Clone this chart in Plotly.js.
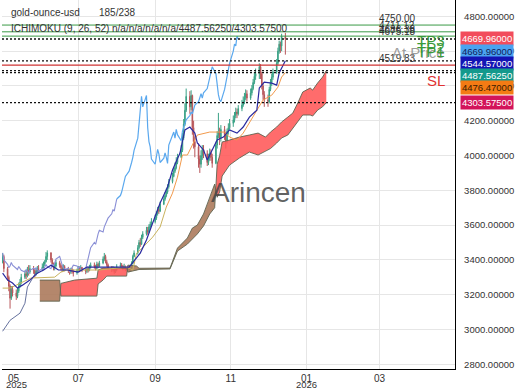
<!DOCTYPE html>
<html><head><meta charset="utf-8">
<script src="https://cdn.plot.ly/plotly-3.0.1.min.js"></script>
<style>html,body{margin:0;padding:0;background:#fff}#c{width:520px;height:390px}</style>
</head><body><div id="c"></div>
<script>
// ---------- DATA ----------
const firstDate = '2025-05-01', lastDate = '2025-12-15';
const firstOpen = 3390;
const closes = [
3420,3350,
3300,3250,3180,3230,3210,
3190,3220,3250,3270,3300,
3320,3310,3340,3330,3350,
3340,3320,3335,3350,3345,
3360,3375,3390,3420,3440,
3400,3375,3355,3365,3385,
3370,3355,3345,3362,3350,
3340,3330,3345,3335,3325,
3340,3352,3345,3356,3342,
3335,3350,3340,3360,3372,
3362,3350,3375,3365,3382,
3405,3420,3390,3372,3356,
3345,3352,3332,3342,3362,
3370,3365,3352,3362,3346,
3345,3352,3380,3420,3440,
3470,3500,3490,3530,3550,
3570,3560,3590,3605,3620,
3640,3665,3690,3680,3720,
3750,3770,3790,3820,3850,
3880,3910,3930,3960,3990,
4030,4100,4180,4260,4340,
4280,4345,4160,4080,4050,
3980,3950,4000,4035,4010,
3960,3985,4015,3990,3955,
4060,4115,4135,4100,4150,
4120,4085,4140,4160,4185,
4205,4230,4250,4240,4270,
4290,4310,4335,4355,4330,
4360,4385,4420,4455,4470,
4510,4470,4400,4350,4320,
4310,4380,4420,4450,4480,
4530,4600,4640,4630,4685,
4669.96];
const highs = [
3440,3430,
3360,3310,3260,3250,3250,
3230,3240,3270,3290,3320,
3340,3340,3360,3370,3370,
3365,3350,3350,3365,3370,
3380,3390,3400,3445,3455,
3445,3410,3385,3380,3400,
3395,3380,3365,3375,3370,
3360,3350,3355,3355,3345,
3350,3365,3362,3370,3360,
3352,3362,3360,3372,3385,
3385,3372,3390,3385,3395,
3420,3440,3430,3400,3380,
3365,3365,3360,3355,3375,
3385,3382,3372,3378,3368,
3360,3365,3392,3430,3455,
3485,3515,3525,3545,3565,
3590,3590,3605,3620,3640,
3660,3680,3705,3710,3735,
3770,3790,3810,3835,3865,
3900,3935,3960,3990,4010,
4060,4130,4210,4300,4385,
4370,4375,4350,4200,4110,
4070,4000,4030,4060,4060,
4030,4010,4040,4035,4010,
4080,4140,4245,4160,4175,
4170,4135,4155,4185,4210,
4230,4250,4275,4270,4290,
4320,4340,4360,4380,4375,
4385,4405,4440,4480,4500,
4530,4525,4480,4420,4370,
4350,4395,4440,4470,4500,
4555,4620,4660,4655,4700,
4705];
const lows = [
3380,3330,
3280,3220,3120,3170,3190,
3170,3180,3210,3240,3260,
3290,3290,3300,3310,3320,
3320,3300,3310,3320,3330,
3335,3350,3365,3385,3400,
3385,3360,3340,3340,3355,
3355,3340,3330,3335,3335,
3325,3315,3320,3320,3305,
3315,3330,3330,3335,3330,
3318,3325,3328,3335,3350,
3350,3340,3345,3352,3360,
3375,3395,3380,3360,3345,
3330,3335,3320,3325,3335,
3355,3350,3340,3345,3335,
3330,3335,3348,3375,3415,
3430,3460,3475,3485,3520,
3540,3545,3555,3580,3595,
3610,3630,3655,3665,3675,
3715,3740,3760,3780,3810,
3840,3875,3900,3920,3950,
3985,4020,4090,4170,4250,
4240,4260,4120,4040,3990,
3930,3900,3930,3975,3985,
3940,3945,3970,3970,3930,
3950,4040,4100,4060,4080,
4090,4040,4070,4120,4150,
4165,4190,4215,4215,4230,
4255,4280,4295,4320,4310,
4320,4345,4375,4410,4435,
4440,4440,4380,4320,4280,
4280,4300,4370,4400,4435,
4470,4520,4585,4590,4600,
4580];

const tenkanDates = ['2025-05-01','2025-05-05','2025-05-09','2025-05-13','2025-05-17','2025-05-23','2025-05-29','2025-06-03','2025-06-09','2025-06-15','2025-06-22','2025-07-01','2025-07-08','2025-07-18','2025-07-29','2025-08-11','2025-08-20','2025-08-25','2025-08-30','2025-09-05','2025-09-11','2025-09-15','2025-09-21','2025-09-25','2025-09-29','2025-10-03','2025-10-05','2025-10-10','2025-10-13','2025-10-18','2025-10-21','2025-10-26','2025-10-31','2025-11-06','2025-11-11','2025-11-16','2025-11-22','2025-11-24','2025-11-28','2025-12-04','2025-12-08','2025-12-10','2025-12-15'];
const tenkanVals = [3324,3284,3267,3238,3255,3284,3324,3342,3370,3342,3342,3330,3359,3359,3359,3359,3439,3514,3612,3727,3819,3917,4014,4147,4164,4129,4072,4032,3974,4049,4089,4106,4147,4129,4164,4221,4261,4388,4422,4416,4405,4474,4544.57];

const kijunDates = ['2025-05-01','2025-05-07','2025-05-12','2025-05-20','2025-05-24','2025-06-12','2025-06-17','2025-06-22','2025-07-08','2025-07-18','2025-08-09','2025-08-14','2025-08-17','2025-08-20','2025-08-30','2025-09-05','2025-09-10','2025-09-15','2025-09-19','2025-09-23','2025-09-27','2025-10-05','2025-10-15','2025-10-27','2025-10-31','2025-11-06','2025-11-11','2025-11-16','2025-11-22','2025-11-27','2025-12-04','2025-12-09','2025-12-12','2025-12-15'];
const kijunVals = [3238,3238,3255,3284,3296,3301,3330,3342,3342,3342,3359,3342,3439,3457,3531,3589,3704,3784,3876,4003,4003,4118,4135,4135,4106,4089,4129,4187,4261,4319,4347,4393,4451,4476.47];

const slateDates = ['2025-05-01','2025-05-07','2025-05-15','2025-05-19','2025-05-21','2025-05-25','2025-05-29'];
const slateVals = [2990,3053,3094,3151,3244,3296,3342];

const cloudDates = ['2025-05-31','2025-06-16','2025-06-17','2025-06-28','2025-07-16','2025-07-17','2025-07-21','2025-07-24','2025-08-09','2025-08-10','2025-08-17','2025-08-19','2025-09-13','2025-09-19','2025-09-27','2025-10-01','2025-10-05','2025-10-10','2025-10-15','2025-10-19','2025-10-21','2025-10-23','2025-10-25','2025-10-31','2025-11-08','2025-11-16','2025-11-23','2025-11-29','2025-12-03','2025-12-08','2025-12-12','2025-12-17','2025-12-21','2025-12-25','2025-12-29','2026-01-04','2026-01-06','2026-01-10','2026-01-14','2026-01-17'];
const spanA = [3163,3163,3265,3284,3295,3342,3353,3353,3353,3330,3340,3345,3348,3451,3491,3520,3549,3595,3664,3700,3950,4000,4078,4089,4106,4118,4129,4106,4135,4164,4193,4221,4244,4302,4365,4388,4376,4417,4451,4487.5625];
const spanB = [3284,3284,3192,3192,3192,3262,3284,3307,3307,3370,3365,3352,3353,3468,3526,3583,3600,3664,3756,3836,3760,3790,3882,3945,3986,4020,4003,4026,4040,4072,4101,4118,4158,4198,4233,4233,4227,4261,4280,4303.575];

const tpLevels = [4750.00, 4711.12, 4686.38];
const tpNames = ['TP3','TP2','TP1'];
const entryLevel = 4675.18;
const slLevel = 4519.83;
const levelLabels = [4750.00, 4711.12, 4686.38, 4675.18, 4519.83];
const markerVals = [4669.96, 4669.96, 4544.57, 4487.5625, 4476.47, 4303.575];
const dottedLevels = [4669.96, 4544.57, 4487.5625, 4476.47, 4303.575];

const xTickVals = ['2025-05-01','2025-07-01','2025-09-01','2025-11-01','2026-01-01','2026-03-01'];
const xTickText = ['05','07','09','11','01','03'];
const yearLabels = ['2025','2026'];
const yearDates = ['2025-05-01','2026-01-01'];
const yTickVals = [2800,3000,3200,3400,3600,3800,4000,4200,4400,4600,4800];
const symbolName = 'gold-ounce-usd', countText = '185/238', ichiName = 'ICHIMOKU (9, 26, 52)';

// ---------- BUILD ----------
function weekdays(s, e) {
  const out = []; const d = new Date(s + 'T00:00:00Z'); const end = new Date(e + 'T00:00:00Z');
  while (d <= end) { const w = d.getUTCDay(); if (w !== 0 && w !== 6) out.push(d.toISOString().slice(0, 10)); d.setUTCDate(d.getUTCDate() + 1); }
  return out;
}
const dates = weekdays(firstDate, lastDate);
const opens = [firstOpen].concat(closes.slice(0, closes.length - 1));

const FONT = 'Liberation Sans, Arial, sans-serif';
const RED = 'rgba(255,88,88,0.88)', BROWN = 'rgba(172,122,92,0.9)';
const traces = [];

function toStr(ms) { return new Date(ms).toISOString().replace('T', ' ').slice(0, 19); }
(function cloud() {
  const t = cloudDates.map(d => new Date(d + 'T00:00:00Z').getTime());
  const segs = [];
  let cur = {up: spanA[0] >= spanB[0], x: [t[0]], a: [spanA[0]], b: [spanB[0]]};
  for (let i = 1; i < t.length; i++) {
    const up = spanA[i] >= spanB[i];
    if (up !== cur.up) {
      const d0 = spanA[i-1] - spanB[i-1], d1 = spanA[i] - spanB[i];
      const f = d0 / (d0 - d1);
      const xc = t[i-1] + f * (t[i] - t[i-1]);
      const yc = spanA[i-1] + f * (spanA[i] - spanA[i-1]);
      cur.x.push(xc); cur.a.push(yc); cur.b.push(yc); segs.push(cur);
      cur = {up, x: [xc], a: [yc], b: [yc]};
    }
    cur.x.push(t[i]); cur.a.push(spanA[i]); cur.b.push(spanB[i]);
  }
  segs.push(cur);
  segs.forEach(s => {
    const xs = s.x.map(toStr);
    traces.push({type: 'scatter', x: xs, y: s.b, mode: 'lines', line: {width: 0}, hoverinfo: 'skip'});
    traces.push({type: 'scatter', x: xs, y: s.a, mode: 'lines', line: {width: 0}, fill: 'tonexty', fillcolor: s.up ? RED : BROWN, hoverinfo: 'skip'});
  });
  traces.push({type: 'scatter', x: cloudDates, y: spanA, mode: 'lines', line: {color: 'rgba(95,100,80,0.9)', width: 1}});
  traces.push({type: 'scatter', x: cloudDates, y: spanB, mode: 'lines', line: {color: 'rgba(95,100,80,0.9)', width: 1}});
})();

traces.push({type: 'candlestick', x: dates, open: opens, high: highs, low: lows, close: closes,
  increasing: {line: {color: '#3aa286', width: 1}, fillcolor: '#3aa286'},
  decreasing: {line: {color: '#b8565a', width: 1}, fillcolor: '#b8565a'},
  whiskerwidth: 0, hoverinfo: 'skip'});

// chikou = close shifted back 26 bars
const chDates = dates.slice(0, dates.length - 26), chVals = closes.slice(26);
const split = chDates.findIndex(d => d >= '2025-08-01');
traces.push({type: 'scatter', x: chDates.slice(0, split + 1), y: chVals.slice(0, split + 1), mode: 'lines', line: {color: '#8a8fd6', width: 1.1}});
traces.push({type: 'scatter', x: chDates.slice(split), y: chVals.slice(split), mode: 'lines', line: {color: '#5aa8ee', width: 1.2}});
traces.push({type: 'scatter', x: slateDates, y: slateVals, mode: 'lines', line: {color: '#66729e', width: 1}});
const ks = kijunDates.indexOf('2025-09-10');
traces.push({type: 'scatter', x: kijunDates.slice(0, ks + 1), y: kijunVals.slice(0, ks + 1), mode: 'lines', line: {color: '#c9b35e', width: 1}});
traces.push({type: 'scatter', x: kijunDates.slice(ks), y: kijunVals.slice(ks), mode: 'lines', line: {color: '#f29a4c', width: 1}});
traces.push({type: 'scatter', x: tenkanDates, y: tenkanVals, mode: 'lines', line: {color: '#2a2aa0', width: 1.2}});

const Y0 = 2773, Y1 = 4894, PH = 369;
const py = v => PH * (Y1 - v) / (Y1 - Y0);
const shapes = [];
tpLevels.forEach(v => shapes.push({type: 'line', xref: 'paper', x0: 0, x1: 1, yref: 'y', y0: v, y1: v, line: {color: '#3a9a46', width: 1}, layer: 'above'}));
shapes.push({type: 'line', xref: 'paper', x0: 0, x1: 1, yref: 'y', y0: slLevel, y1: slLevel, line: {color: '#d03434', width: 1.2}, layer: 'above'});
dottedLevels.forEach(v => shapes.push({type: 'line', xref: 'paper', x0: 0, x1: 1, yref: 'y', y0: v, y1: v, line: {color: '#111', width: 1.3, dash: '2px,2px'}, layer: 'above'}));

const ann = [];
const tx = (x) => (x - 2) / 453, ty = (y) => 1 - y / PH;
const txt = (text, x, y, size, color, anchor) => ann.push({text, xref: 'paper', yref: 'paper', x: tx(x), y: ty(y), xanchor: anchor || 'left', yanchor: 'middle', showarrow: false, font: {family: FONT, size, color}});
txt(symbolName, 9, 12.5, 10, '#333');
txt(countText, 97, 12.5, 10, '#333');
txt(ichiName, 9, 29, 10, '#333');
txt('n/a/n/a/n/a/n/a/' + markerVals[3].toFixed(5) + '/' + markerVals[5].toFixed(5), 110, 29, 10, '#333');
levelLabels.forEach(v => ann.push({text: v.toFixed(2), xref: 'paper', x: tx(397), yref: 'y', y: v, xanchor: 'center', yanchor: 'bottom', yshift: -1, showarrow: false, font: {family: FONT, size: 10, color: '#333'}}));
ann.push({text: 'At Price', xref: 'paper', x: tx(447), yref: 'y', y: entryLevel, xanchor: 'right', yanchor: 'top', yshift: -4, showarrow: false, font: {family: FONT, size: 15, color: 'rgba(140,140,140,0.85)'}});
tpLevels.forEach((v, i) => ann.push({text: tpNames[i], xref: 'paper', x: tx(447), yref: 'y', y: v, xanchor: 'right', yanchor: 'top', yshift: -5, showarrow: false, font: {family: FONT, size: 15, color: '#3a9a3a'}}));
ann.push({text: 'SL', xref: 'paper', x: tx(447), yref: 'y', y: slLevel, xanchor: 'right', yanchor: 'top', yshift: -5, showarrow: false, font: {family: FONT, size: 15, color: '#e03232'}});
ann.push({text: 'Arincen', xref: 'paper', yref: 'paper', x: tx(258), y: ty(193), xanchor: 'center', yanchor: 'middle', showarrow: false, font: {family: FONT, size: 28, color: 'rgba(70,70,70,0.85)'}});
// stacked value markers on the right axis
const mBg = ['#f24c5c', '#4aa3f0', '#1414b4', '#14998c', '#f47b14', '#d3145a'];
const mFg = ['#ffffff', '#10205a', '#ffffff', '#ffffff', '#3a1a00', '#ffffff'];
let prev = -1e9;
markerVals.forEach((v, i) => {
  const nat = py(v); const pos = Math.max(nat, prev + 12.2); prev = pos;
  ann.push({text: v.toFixed(5), xref: 'paper', x: 1, xshift: 5, xanchor: 'left', yref: 'y', y: v, yshift: -(pos - nat), yanchor: 'middle', showarrow: false, bgcolor: mBg[i], borderpad: 1, font: {family: FONT, size: 9.5, color: mFg[i]}});
});
// first month label sits right of its gridline; year labels below month labels
ann.push({text: xTickText[0], xref: 'x', x: xTickVals[0], yref: 'paper', y: ty(378), xanchor: 'left', yanchor: 'middle', xshift: 3, showarrow: false, font: {family: FONT, size: 10, color: '#333'}});
yearLabels.forEach((t, i) => ann.push({text: t, xref: 'x', x: yearDates[i], yref: 'paper', y: ty(384.5), xanchor: i === 0 ? 'left' : 'center', xshift: i === 0 ? 2 : 0, yanchor: 'middle', showarrow: false, borderpad: 0, font: {family: FONT, size: 9.5, color: '#333'}}));

const layout = {
  width: 520, height: 390, margin: {l: 2, r: 65, t: 0, b: 21},
  paper_bgcolor: '#fff', plot_bgcolor: '#fff', showlegend: false,
  font: {family: FONT, size: 10, color: '#333'},
  xaxis: {type: 'date', range: ['2025-04-30 12:00', '2026-04-30 19:00'], tickvals: xTickVals,
    ticktext: [''].concat(xTickText.slice(1)), showgrid: true, gridcolor: '#e6e6e6', showline: true, linecolor: '#000', linewidth: 1.2,
    ticks: '', zeroline: false, rangeslider: {visible: false}, tickfont: {family: FONT, size: 10, color: '#333'}, fixedrange: true},
  yaxis: {side: 'right', range: [Y0, Y1], tickvals: yTickVals, tickformat: '.5f', showgrid: true, gridcolor: '#e6e6e6',
    showline: true, linecolor: '#000', linewidth: 1.2, ticks: '', zeroline: false, tickfont: {family: FONT, size: 9.5, color: '#333'}, ticklabelstandoff: 6, fixedrange: true},
  shapes, annotations: ann
};
Plotly.newPlot('c', traces, layout, {staticPlot: true, displayModeBar: false});
</script></body></html>
